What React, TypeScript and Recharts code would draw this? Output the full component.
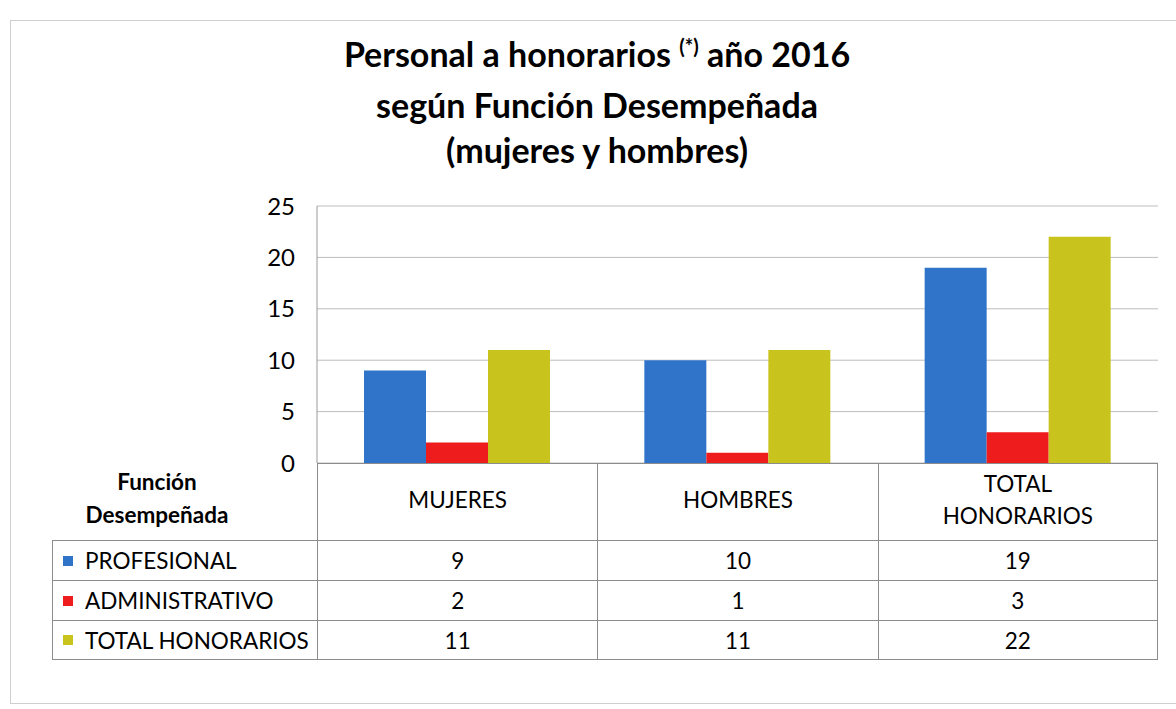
import { Bar, BarChart, CartesianGrid, YAxis } from "recharts";

const categories = ["MUJERES", "HOMBRES", "TOTAL HONORARIOS"];
const headerLines = [["MUJERES"], ["HOMBRES"], ["TOTAL", "HONORARIOS"]];
const profesional = [9, 10, 19];
const administrativo = [2, 1, 3];
const totalHonorarios = [11, 11, 22];
const seriesNames = ["PROFESIONAL", "ADMINISTRATIVO", "TOTAL HONORARIOS"];
const seriesColors = ["#2f74c8", "#ee1c1c", "#c9c31e"];
const yTicks = [0, 5, 10, 15, 20, 25];

const seriesValues = [profesional, administrativo, totalHonorarios];
const data = categories.map((c, i) => ({
  name: c,
  s0: profesional[i],
  s1: administrativo[i],
  s2: totalHonorarios[i],
}));

const FONT = "Lato, 'Open Sans', sans-serif";
// plot area geometry (matches the data table below)
const PLOT_LEFT = 317;
const PLOT_RIGHT = 1158;
const PLOT_TOP = 206;
const PLOT_BOTTOM = 463;
const COL_W = (PLOT_RIGHT - PLOT_LEFT) / categories.length;
const LABEL_LEFT = 52;
const HEADER_H = 77;
const ROW_H = 40;
const BORDER = "#8c8c8c";
const TABLE_FS = 22.5;

export default function App() {
  return (
    <div
      style={{
        position: "absolute",
        left: 0,
        top: 0,
        width: 1176,
        height: 709,
        background: "#fff",
        overflow: "hidden",
        fontFamily: FONT,
        color: "#000",
      }}
    >
      <div
        style={{
          position: "absolute",
          left: 10,
          top: 20,
          width: 1200,
          height: 682,
          border: "1px solid #cfcfcf",
        }}
      />
      <div
        style={{
          position: "absolute",
          left: 0,
          width: 1194,
          top: 31,
          textAlign: "center",
          fontWeight: 700,
          fontSize: 34,
          lineHeight: "45px",
        }}
      >
        <div>
          Personal a honorarios{" "}
          <span style={{ fontSize: 20, position: "relative", top: -13 }}>(*)</span> año 2016
        </div>
        <div>según Función Desempeñada</div>
        <div>(mujeres y hombres)</div>
      </div>

      <div style={{ position: "absolute", left: 0, top: 0 }}>
        <BarChart
          width={1176}
          height={709}
          data={data}
          margin={{
            top: PLOT_TOP,
            left: PLOT_LEFT - 60,
            right: 1176 - PLOT_RIGHT,
            bottom: 709 - PLOT_BOTTOM,
          }}
          barGap={0}
          barSize={62}
        >
          <CartesianGrid vertical={false} stroke="#bdbdbd" strokeWidth={1} />
          <YAxis
            width={60}
            domain={[0, 25]}
            ticks={yTicks}
            tickLine={false}
            axisLine={{ stroke: "#9a9a9a" }}
            tickMargin={16}
            tick={{ fill: "#000", fontSize: 24, fontFamily: FONT }}
          />
          {seriesNames.map((n, i) => (
            <Bar
              key={n}
              dataKey={`s${i}`}
              name={n}
              fill={seriesColors[i]}
              isAnimationActive={false}
            />
          ))}
        </BarChart>
      </div>

      {/* data table */}
      <div
        style={{
          position: "absolute",
          left: 72,
          top: 465,
          width: 170,
          fontWeight: 700,
          fontSize: TABLE_FS,
          lineHeight: "33px",
          textAlign: "center",
        }}
      >
        <div>Función</div>
        <div>Desempeñada</div>
      </div>
      {headerLines.map((lines, i) => (
        <div
          key={`h${i}`}
          style={{
            position: "absolute",
            left: PLOT_LEFT + i * COL_W,
            top: PLOT_BOTTOM,
            width: COL_W,
            height: HEADER_H,
            borderLeft: `1px solid ${BORDER}`,
            borderRight: i === categories.length - 1 ? `1px solid ${BORDER}` : undefined,
            borderTop: `1px solid ${BORDER}`,
            boxSizing: "border-box",
            display: "flex",
            flexDirection: "column",
            justifyContent: "center",
            alignItems: "center",
            fontSize: TABLE_FS,
            lineHeight: "32px",
            paddingBottom: 4,
          }}
        >
          {lines.map((l) => (
            <div key={l}>{l}</div>
          ))}
        </div>
      ))}
      {seriesNames.map((n, r) => (
        <div key={n}>
          <div
            style={{
              position: "absolute",
              left: LABEL_LEFT,
              top: PLOT_BOTTOM + HEADER_H + r * ROW_H,
              width: PLOT_LEFT - LABEL_LEFT,
              height: ROW_H,
              borderTop: `1px solid ${BORDER}`,
              borderLeft: `1px solid ${BORDER}`,
              borderBottom: r === seriesNames.length - 1 ? `1px solid ${BORDER}` : undefined,
              boxSizing: "border-box",
              display: "flex",
              alignItems: "center",
              fontSize: TABLE_FS,
              whiteSpace: "nowrap",
            }}
          >
            <span
              style={{
                display: "inline-block",
                width: 10,
                height: 10,
                background: seriesColors[r],
                marginLeft: 10,
                marginRight: 12,
              }}
            />
            {n}
          </div>
          {seriesValues[r].map((v, c) => (
            <div
              key={c}
              style={{
                position: "absolute",
                left: PLOT_LEFT + c * COL_W,
                top: PLOT_BOTTOM + HEADER_H + r * ROW_H,
                width: COL_W,
                height: ROW_H,
                borderTop: `1px solid ${BORDER}`,
                borderLeft: `1px solid ${BORDER}`,
                borderRight: c === categories.length - 1 ? `1px solid ${BORDER}` : undefined,
                borderBottom: r === seriesNames.length - 1 ? `1px solid ${BORDER}` : undefined,
                boxSizing: "border-box",
                display: "flex",
                alignItems: "center",
                justifyContent: "center",
                fontSize: TABLE_FS,
              }}
            >
              {v}
            </div>
          ))}
        </div>
      ))}
    </div>
  );
}
